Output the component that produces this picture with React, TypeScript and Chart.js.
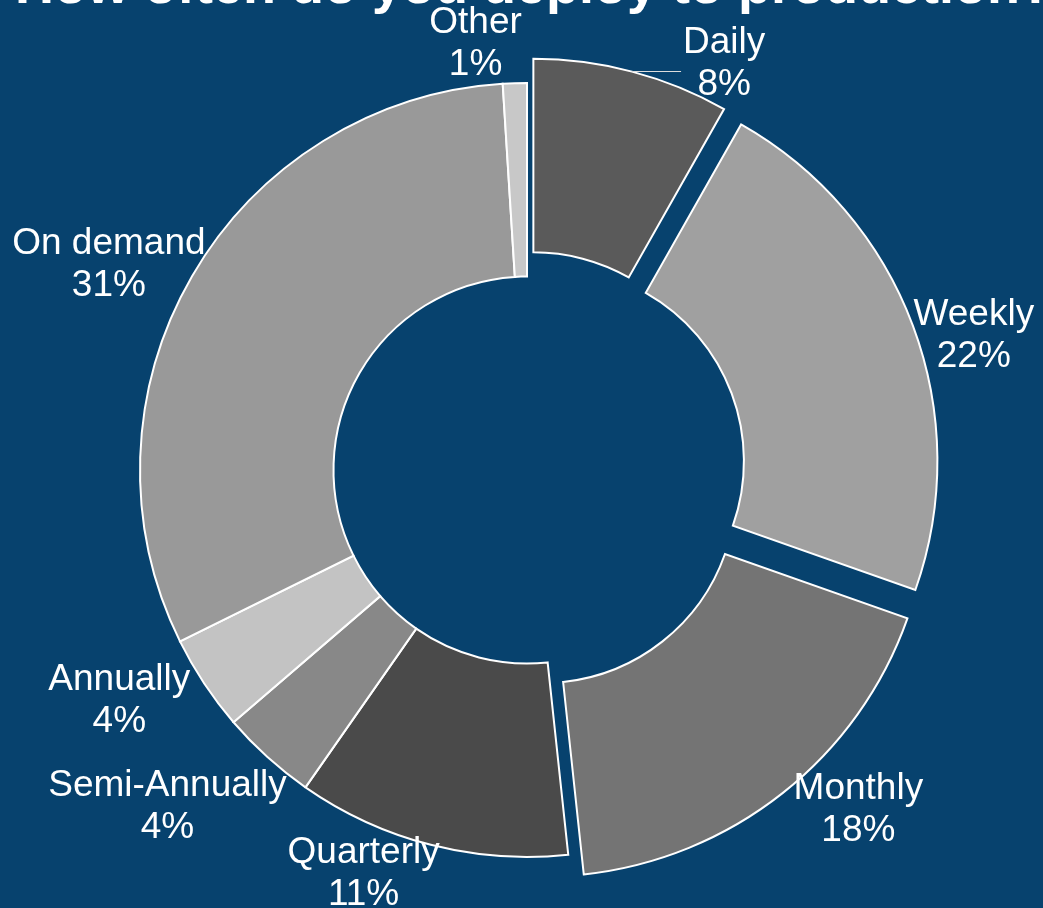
import React, { useEffect, useRef } from "react";
import { Chart, registerables } from "chart.js";

Chart.register(...registerables);

const TITLE = "How often do you deploy to production?";
const categories = [
  "Daily",
  "Weekly",
  "Monthly",
  "Quarterly",
  "Semi-Annually",
  "Annually",
  "On demand",
  "Other",
];
// shares (%); labels show them rounded
const shares = [8.2, 22.2, 17.9, 11.4, 4.0, 4.0, 31.3, 1.0];
const sliceColors = [
  "#5a5a5a",
  "#a0a0a0",
  "#747474",
  "#4a4a4a",
  "#888888",
  "#c3c3c3",
  "#999999",
  "#c8c8c8",
];
const explodedCategories = ["Daily", "Weekly", "Monthly"];
const leaderCategories = ["Daily"];
// label placement tweaks relative to the default radial position (layout only)
const labelNudge: [number, number][] = [
  [80, 36],
  [16, 24],
  [46, -24],
  [-49, -45],
  [-51, -7],
  [-24, -26],
  [-20, 22],
  [-37, 31],
];

const BG = "#07426e";
const FONT = '"Liberation Sans", Arial, sans-serif';
const EXPLODE = 25;
const LABEL_DIST = 460;

const bgPlugin = {
  id: "bgFill",
  beforeDraw(chart: any) {
    const { ctx, width, height } = chart;
    ctx.save();
    ctx.fillStyle = BG;
    ctx.fillRect(0, 0, width, height);
    ctx.restore();
  },
};

const explodePlugin = {
  id: "explodeSlices",
  afterUpdate(chart: any) {
    const meta = chart.getDatasetMeta(0);
    meta.data.forEach((arc: any, i: number) => {
      if (!explodedCategories.includes(categories[i])) return;
      const mid = (arc.startAngle + arc.endAngle) / 2;
      arc.x += Math.cos(mid) * EXPLODE;
      arc.y += Math.sin(mid) * EXPLODE;
    });
  },
};

const labelPlugin = {
  id: "sliceLabels",
  afterDraw(chart: any) {
    const ctx = chart.ctx;
    const area = chart.chartArea;
    const cx = (area.left + area.right) / 2;
    const cy = (area.top + area.bottom) / 2;
    const meta = chart.getDatasetMeta(0);
    const total = shares.reduce((a, b) => a + b, 0);
    ctx.save();
    ctx.font = `37px ${FONT}`;
    ctx.fillStyle = "#ffffff";
    ctx.textAlign = "center";
    ctx.textBaseline = "alphabetic";
    meta.data.forEach((arc: any, i: number) => {
      const mid = (arc.startAngle + arc.endAngle) / 2;
      const ax = cx + Math.cos(mid) * LABEL_DIST + labelNudge[i][0];
      const ay = cy + Math.sin(mid) * LABEL_DIST + labelNudge[i][1];
      const pct = Math.round((shares[i] / total) * 100);
      ctx.fillText(categories[i], ax, ay - 8);
      ctx.fillText(`${pct}%`, ax, ay + 34);
      if (leaderCategories.includes(categories[i])) {
        const ly = Math.round(ay + 10) + 0.5;
        const dy = ly - arc.y;
        const sx = arc.x + Math.sqrt(Math.max(arc.outerRadius * arc.outerRadius - dy * dy, 0));
        const ex = ax - ctx.measureText(categories[i]).width / 2 - 2;
        ctx.strokeStyle = "#dcdcdc";
        ctx.lineWidth = 1;
        ctx.beginPath();
        ctx.moveTo(sx, ly);
        ctx.lineTo(ex, ly);
        ctx.stroke();
      }
    });
    ctx.font = `bold 54px ${FONT}`;
    ctx.textAlign = "left";
    ctx.fillText(TITLE, 15, 3);
    ctx.restore();
  },
};

export default function App() {
  const canvasRef = useRef<HTMLCanvasElement | null>(null);

  useEffect(() => {
    if (!canvasRef.current) return;
    const chart = new Chart(canvasRef.current, {
      type: "doughnut",
      data: {
        labels: categories,
        datasets: [
          {
            data: shares,
            backgroundColor: sliceColors,
            borderColor: "#ffffff",
            borderWidth: 2,
            borderJoinStyle: "miter",
          } as any,
        ],
      },
      options: {
        responsive: false,
        animation: false,
        events: [],
        radius: 387,
        cutout: "50%",
        layout: { padding: { left: 11, right: 0, top: 32, bottom: 0 } },
        plugins: {
          legend: { display: false },
          title: { display: false },
          tooltip: { enabled: false },
        },
      } as any,
      plugins: [bgPlugin, explodePlugin, labelPlugin],
    });
    return () => chart.destroy();
  }, []);

  return (
    <canvas
      ref={canvasRef}
      width={1043}
      height={908}
      style={{ position: "fixed", left: 0, top: 0, width: 1043, height: 908, display: "block" }}
    />
  );
}
